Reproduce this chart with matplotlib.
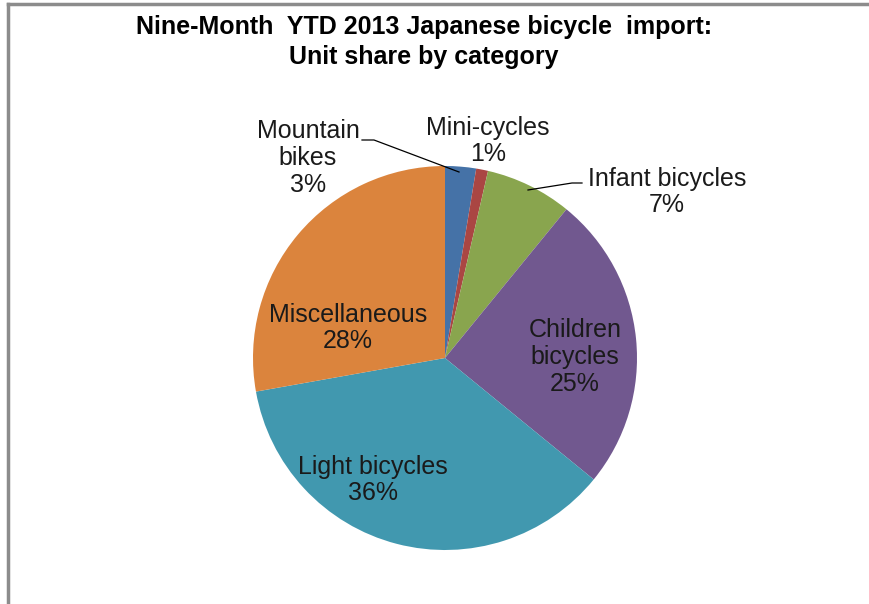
import matplotlib.pyplot as plt
from matplotlib.lines import Line2D

plt.rcParams['font.family'] = ['Liberation Sans', 'DejaVu Sans']

categories = ["Mountain\nbikes", "Mini-cycles", "Infant bicycles", "Children\nbicycles",
              "Light bicycles", "Miscellaneous"]
shares = [2.6, 1.0, 7.3, 25.0, 36.3, 27.8]
pct_labels = ["3%", "1%", "7%", "25%", "36%", "28%"]
colors = ["#4572A7", "#AA4643", "#89A54E", "#71588F", "#4198AF", "#DB843D"]

W, H = 870, 604
fig = plt.figure(figsize=(W / 100, H / 100), dpi=100)

# chart frame (left and top edges visible)
fig.add_artist(Line2D([8 / W, 8 / W], [0, 1 - 4 / H], color="#8c8c8c", lw=2.5))
fig.add_artist(Line2D([8 / W, 1], [1 - 4 / H, 1 - 4 / H], color="#8c8c8c", lw=2.5))

cx, cy, r = 445, 358, 192
ax = fig.add_axes([(cx - r) / W, (H - cy - r) / H, 2 * r / W, 2 * r / H])
ax.pie(shares, colors=colors, startangle=90, counterclock=False, radius=1,
       wedgeprops=dict(linewidth=0))
ax.set_xlim(-1, 1)
ax.set_ylim(-1, 1)
ax.set_aspect("equal")
ax.axis("off")


def px(x, y):
    return x / W, 1 - y / H


fig.text(*px(424, 42), "Nine-Month  YTD 2013 Japanese bicycle  import:\nUnit share by category",
         ha="center", va="center", fontsize=18, fontweight="bold", linespacing=1.35)

label_pos = [(308, 158), (488, 141), (667, 192), (575, 357), (373, 480), (348, 328)]
for name, pct, (x, y) in zip(categories, pct_labels, label_pos):
    fig.text(*px(x, y), name + "\n" + pct, ha="center", va="center",
             fontsize=18, color="#1a1a1a", linespacing=1.15)

# leader lines
for pts in ([(362, 140), (374, 140), (459, 172)],
            [(582, 183), (572, 183), (528, 190)]):
    xs = [p[0] / W for p in pts]
    ys = [1 - p[1] / H for p in pts]
    fig.add_artist(Line2D(xs, ys, color="black", lw=0.9))

plt.savefig("out.png", dpi=100)
